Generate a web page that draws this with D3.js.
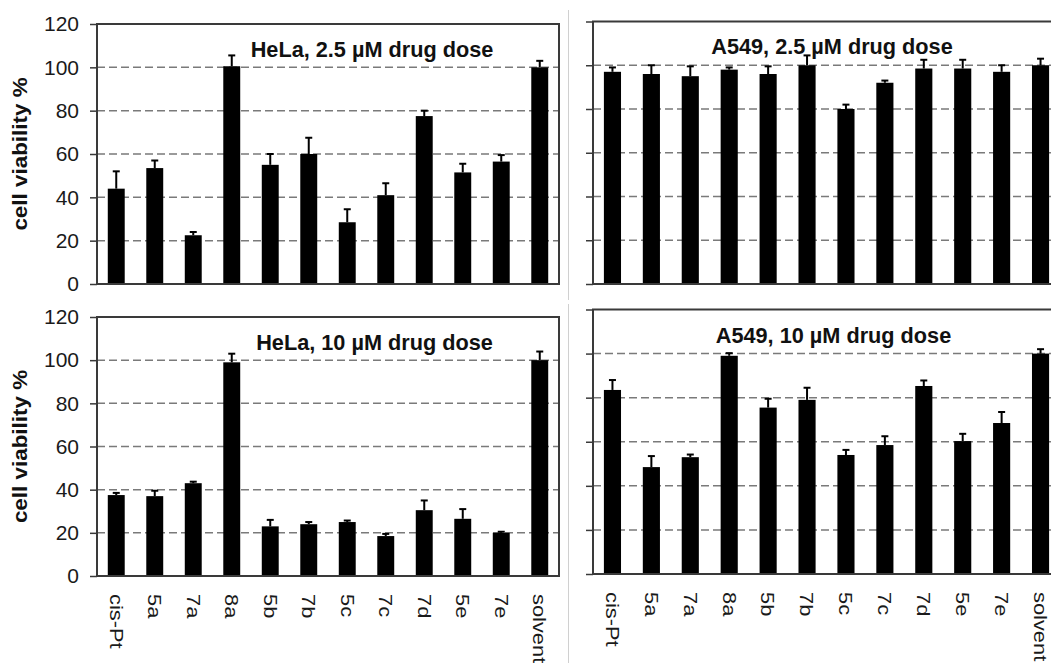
<!DOCTYPE html>
<html><head><meta charset="utf-8">
<script src="https://cdn.jsdelivr.net/npm/d3@7"></script>
<style>body{margin:0;background:#fff}svg{display:block}</style>
</head><body>
<svg id="c" width="1051" height="663"></svg>
<script>
const categories = ["cis-Pt","5a","7a","8a","5b","7b","5c","7c","7d","5e","7e","solvent"];
const helaLow     = [44, 53.5, 22.5, 100.5, 55, 60, 28.5, 41, 77.5, 51.5, 56.5, 100];
const helaLowErr  = [8, 3.5, 1.5, 5, 5, 7.5, 6, 5.5, 2.5, 4, 3, 3];
const a549Low     = [97, 96, 95, 98, 96, 100, 80, 92, 98.5, 98.5, 97, 100];
const a549LowErr  = [2, 4, 4.5, 1, 3.5, 4.5, 2, 1, 4, 4, 3, 3];
const helaHigh    = [37.5, 37, 43, 99, 23, 24, 25, 18.5, 30.5, 26.5, 20, 100];
const helaHighErr = [1, 2.5, 0.7, 4, 3, 1, 0.7, 1, 4.5, 4.5, 0.5, 4];
const a549High    = [83.5, 48.5, 53, 99, 75.5, 79, 54, 58.5, 85.3, 60.3, 68.5, 100];
const a549HighErr = [4.5, 5, 1.2, 1.2, 4, 5.5, 2.3, 4, 2.5, 3.3, 5, 2];
const yTicks = [0, 20, 40, 60, 80, 100, 120];
const gridValues = [20, 40, 60, 80, 100];
const titles = ["HeLa, 2.5 µM drug dose", "A549, 2.5 µM drug dose", "HeLa, 10 µM drug dose", "A549, 10 µM drug dose"];
const yLabel = "cell viability %";

const svg = d3.select("#c");
const FONT = "Liberation Sans, Arial, sans-serif";

// separator
svg.append("line").attr("x1",568.5).attr("x2",568.5).attr("y1",10).attr("y2",300)
  .attr("stroke","#d0d0d0").attr("stroke-width",1);
svg.append("line").attr("x1",568.5).attr("x2",568.5).attr("y1",304).attr("y2",663)
  .attr("stroke","#d0d0d0").attr("stroke-width",1);

const panels = [
  {x0:97,  x1:559,  yTop:24,  yBot:284, vals:helaLow,  errs:helaLowErr,  title:titles[0], tx:372,   ty:57,  left:true,  bottom:false},
  {x0:593, x1:1060, yTop:21.5,yBot:284, vals:a549Low,  errs:a549LowErr,  title:titles[1], tx:832,   ty:54,  left:false, bottom:false},
  {x0:97,  x1:559,  yTop:317, yBot:576, vals:helaHigh, errs:helaHighErr, title:titles[2], tx:374.5, ty:350, left:true,  bottom:true},
  {x0:593, x1:1060, yTop:309.5,yBot:574,vals:a549High, errs:a549HighErr, title:titles[3], tx:833.5, ty:343, left:false, bottom:true}
];

panels.forEach(p => {
  const g = svg.append("g");
  const x = d3.scaleBand().domain(categories).range([p.x0, p.x1]).paddingInner(0.56).paddingOuter(0.28);
  const y = d3.scaleLinear().domain([0,120]).range([p.yBot, p.yTop]);

  // grid
  g.selectAll("line.grid").data(gridValues).join("line")
    .attr("x1", p.x0).attr("x2", p.x1)
    .attr("y1", d => y(d)).attr("y2", d => y(d))
    .attr("stroke","#7a7a7a").attr("stroke-width",1.5).attr("stroke-dasharray","8,4");

  // bars
  const data = categories.map((c,i) => ({c, v:p.vals[i], e:p.errs[i]}));
  g.selectAll("rect.bar").data(data).join("rect")
    .attr("x", d => x(d.c)).attr("width", x.bandwidth())
    .attr("y", d => y(d.v)).attr("height", d => y(0) - y(d.v))
    .attr("fill","#000");
  // error bars
  g.selectAll("line.err").data(data).join("line")
    .attr("x1", d => x(d.c) + x.bandwidth()/2).attr("x2", d => x(d.c) + x.bandwidth()/2)
    .attr("y1", d => y(d.v)).attr("y2", d => y(d.v + d.e))
    .attr("stroke","#000").attr("stroke-width",2);
  g.selectAll("line.cap").data(data).join("line")
    .attr("x1", d => x(d.c) + x.bandwidth()/2 - 3.5).attr("x2", d => x(d.c) + x.bandwidth()/2 + 3.5)
    .attr("y1", d => y(d.v + d.e)).attr("y2", d => y(d.v + d.e))
    .attr("stroke","#000").attr("stroke-width",2);

  // frame
  g.append("rect").attr("x", p.x0).attr("y", y(120)).attr("width", p.x1 - p.x0).attr("height", y(0) - y(120))
    .attr("fill","none").attr("stroke","#3a3a3a").attr("stroke-width",2);

  // y axis
  const ax = d3.axisLeft(y).tickValues(yTicks).tickSize(7).tickPadding(11)
    .tickFormat(p.left ? d3.format("d") : () => "");
  const axg = g.append("g").attr("transform", `translate(${p.x0},0)`).call(ax);
  axg.select(".domain").remove();
  axg.selectAll(".tick line").attr("stroke","#3a3a3a").attr("stroke-width",1.5);
  axg.selectAll(".tick text").attr("font-family",FONT)
    .attr("font-size",21).attr("fill","#1a1a1a");

  // title
  g.append("text").attr("x", p.tx).attr("y", p.ty).attr("text-anchor","middle")
    .attr("font-family",FONT).attr("font-weight","bold")
    .attr("font-size",21.7).attr("fill","#111").text(p.title);

  // y label
  if (p.left) {
    g.append("text")
      .attr("transform", `translate(27,${(y(0)+y(120))/2}) rotate(-90) scale(1.15,1)`)
      .attr("text-anchor","middle")
      .attr("font-family",FONT).attr("font-weight","bold")
      .attr("font-size",19.5).attr("fill","#111").text(yLabel);
  }

  // x labels
  if (p.bottom) {
    g.selectAll("text.xl").data(categories).join("text")
      .attr("transform", d => `translate(${x(d) + x.bandwidth()/2},${y(0) + 18}) rotate(90) scale(1.15,1)`)
      .attr("dy","0.35em").attr("text-anchor","start")
      .attr("font-family",FONT)
      .attr("font-size",19).attr("fill","#1a1a1a").text(d => d);
  }
});
</script>
</body></html>
